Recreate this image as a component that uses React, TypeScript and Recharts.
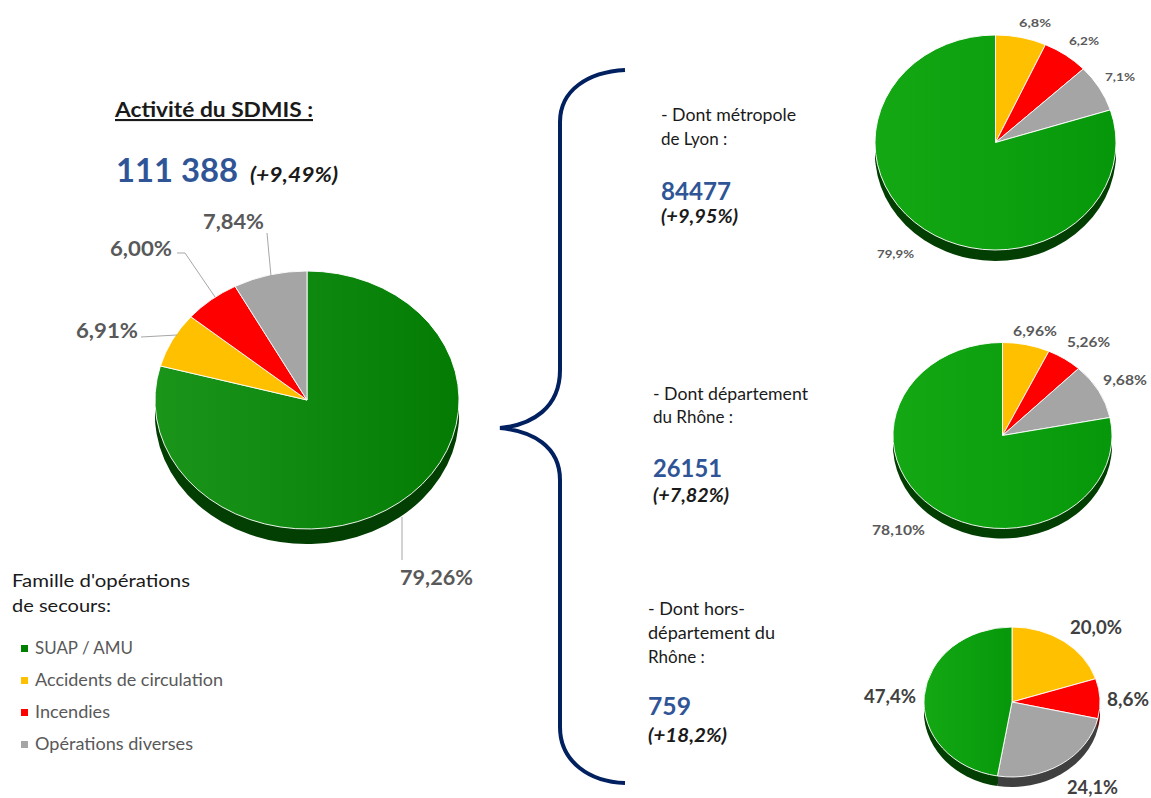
import React from 'react';
import { PieChart, Pie, Cell } from 'recharts';

// ---------- data ----------
const categories = ['SUAP / AMU', 'Accidents de circulation', 'Incendies', 'Opérations diverses'];
const totalValues = [79.26, 6.91, 6.0, 7.84];
const metropoleValues = [79.9, 6.8, 6.2, 7.1];
const rhoneValues = [78.1, 6.96, 5.26, 9.68];
const horsValues = [47.4, 20.0, 8.6, 24.1];

const totalCount = '111 388';
const totalChange = '(+9,49%)';
const metropoleCount = '84477';
const metropoleChange = '(+9,95%)';
const rhoneCount = '26151';
const rhoneChange = '(+7,82%)';
const horsCount = '759';
const horsChange = '(+18,2%)';

// ---------- styles ----------
const FONT = 'Lato, "Open Sans", sans-serif';
const legendColors = ['#008000', '#FFC000', '#FF0000', '#A5A5A5'];
const legendWidths = [98, 188, 75, 158];
const shadowColors = ['#033f03', '#7a5c00', '#7a0000', '#404040'];

const fmt = (v: number, d: number) => v.toFixed(d).replace('.', ',') + '%';

type PieSpec = {
  values: number[];
  order: number[];
  ex: number;
  ey: number;
  rx: number;
  ry: number;
  depth: number;
  topColors: string[];
};

const EllipsePie = ({ values, order, ex, ey, rx, ry, depth, topColors }: PieSpec) => {
  const data = order.map((i) => ({ name: categories[i], value: values[i], idx: i }));
  const size = 2 * rx + 4;
  const layer = (offset: number, colors: string[], stroke: boolean, key: string) => (
    <div
      key={key}
      style={{
        position: 'absolute',
        left: ex - rx - 2,
        top: ey - rx - 2 + offset,
        width: size,
        height: size,
        transform: `scaleY(${ry / rx})`,
        transformOrigin: '50% 50%',
      }}
    >
      <PieChart width={size} height={size} margin={{ top: 0, right: 0, bottom: 0, left: 0 }}>
        <Pie
          data={data}
          dataKey="value"
          cx={rx + 2}
          cy={rx + 2}
          outerRadius={rx}
          innerRadius={0}
          startAngle={90}
          endAngle={-270}
          stroke={stroke ? '#ffffff' : 'none'}
          strokeWidth={stroke ? 1 : 0}
          isAnimationActive={false}
          label={false}
          labelLine={false}
        >
          {data.map((d) => (
            <Cell key={d.name} fill={colors[d.idx]} />
          ))}
        </Pie>
      </PieChart>
    </div>
  );
  const steps = [1, 0.75, 0.5, 0.25];
  return (
    <>
      {steps.map((s, k) => layer(depth * s, shadowColors, false, 'sh' + k))}
      {layer(0, topColors, true, 'top')}
    </>
  );
};

// label placements (x = left, y = baseline, w = width) in category order
const mainLabelPos = [
  { x: 400, y: 585, w: 73 },
  { x: 76, y: 338, w: 62 },
  { x: 110, y: 256, w: 62 },
  { x: 203, y: 229, w: 61 },
];
const metroLabelPos = [
  { x: 877, y: 258, w: 37 },
  { x: 1019, y: 27, w: 32 },
  { x: 1069, y: 45, w: 30 },
  { x: 1105, y: 81, w: 30 },
];
const rhoneLabelPos = [
  { x: 872, y: 535, w: 53 },
  { x: 1013, y: 336, w: 44 },
  { x: 1067, y: 347, w: 43 },
  { x: 1103, y: 385, w: 44 },
];
const horsLabelPos = [
  { x: 864, y: 703, w: 52 },
  { x: 1070, y: 634, w: 52 },
  { x: 1107, y: 706, w: 42 },
  { x: 1067, y: 794, w: 51 },
];

export default function App() {
  const mainGreen = 'url(#gMain)';
  const smallGreen = 'url(#gSmall)';
  const mainColors = [mainGreen, '#FFC000', '#FF0000', '#A5A5A5'];
  const smallColors = [smallGreen, '#FFC000', '#FF0000', '#A5A5A5'];

  const T = (
    key: string,
    x: number,
    y: number,
    text: string,
    size: number,
    color: string,
    opts: { bold?: boolean; italic?: boolean; w?: number; underline?: boolean } = {}
  ) => (
    <text
      key={key}
      x={x}
      y={y}
      fontFamily={FONT}
      fontSize={size}
      fill={color}
      fontWeight={opts.bold ? 700 : 400}
      fontStyle={opts.italic ? 'italic' : 'normal'}
      textDecoration={opts.underline ? 'underline' : undefined}
      textLength={opts.w}
      lengthAdjust={opts.w ? 'spacingAndGlyphs' : undefined}
    >
      {text}
    </text>
  );

  const blue = '#2F5597';
  const dark = '#1A1A1A';
  const grey = '#595959';

  return (
    <div
      style={{
        position: 'absolute',
        left: 0,
        top: 0,
        width: 1151,
        height: 798,
        background: '#ffffff',
        overflow: 'hidden',
      }}
    >
      <svg width={0} height={0} style={{ position: 'absolute' }}>
        <defs>
          <linearGradient id="gMain" x1="0" y1="0" x2="1" y2="0">
            <stop offset="0%" stopColor="#1a951a" />
            <stop offset="100%" stopColor="#047c04" />
          </linearGradient>
          <linearGradient id="gSmall" x1="0" y1="0" x2="1" y2="0">
            <stop offset="0%" stopColor="#14a814" />
            <stop offset="100%" stopColor="#06980a" />
          </linearGradient>
        </defs>
      </svg>

      <EllipsePie values={totalValues} order={[0, 1, 2, 3]} ex={307} ey={400} rx={152} ry={129} depth={15} topColors={mainColors} />
      <EllipsePie values={metropoleValues} order={[1, 2, 3, 0]} ex={995.5} ey={142} rx={120.5} ry={107.5} depth={11} topColors={smallColors} />
      <EllipsePie values={rhoneValues} order={[1, 2, 3, 0]} ex={1002.5} ey={435} rx={109.5} ry={93} depth={10} topColors={smallColors} />
      <EllipsePie values={horsValues} order={[1, 2, 3, 0]} ex={1012} ey={702} rx={88} ry={75} depth={10} topColors={smallColors} />

      <svg width={1151} height={798} style={{ position: 'absolute', left: 0, top: 0 }}>
        {/* brace */}
        <path
          d="M 625 70 C 588 72 560 90 560 122 L 560 370 C 560 408 532 425 500 428 C 532 431 560 446 560 480 L 560 727 C 560 762 590 782 625 783"
          fill="none"
          stroke="#002060"
          strokeWidth={4}
        />

        {/* title block */}
        {T('t1', 115, 117, 'Activité du SDMIS :', 21, dark, { bold: true, w: 198, underline: true })}
        {T('t2', 116, 182, totalCount, 33, blue, { bold: true, w: 122 })}
        {T('t3', 250, 182, totalChange, 20, dark, { bold: true, italic: true, w: 88 })}

        {/* main pie leader lines */}
        <polyline points="267,233 271,276" fill="none" stroke="#A6A6A6" strokeWidth={1} />
        <polyline points="177,253 185,253 215,297" fill="none" stroke="#A6A6A6" strokeWidth={1} />
        <polyline points="141,337 177,335" fill="none" stroke="#A6A6A6" strokeWidth={1} />
        <polyline points="402,517 402,560" fill="none" stroke="#A6A6A6" strokeWidth={1} />

        {/* pie labels */}
        {totalValues.map((v, i) =>
          T('ml' + i, mainLabelPos[i].x, mainLabelPos[i].y, fmt(v, 2), 20, grey, { bold: true, w: mainLabelPos[i].w })
        )}
        {metropoleValues.map((v, i) =>
          T('mt' + i, metroLabelPos[i].x, metroLabelPos[i].y, fmt(v, 1), 12, grey, { bold: true, w: metroLabelPos[i].w })
        )}
        {rhoneValues.map((v, i) =>
          T('rh' + i, rhoneLabelPos[i].x, rhoneLabelPos[i].y, fmt(v, 2), 14, grey, { bold: true, w: rhoneLabelPos[i].w })
        )}
        {horsValues.map((v, i) =>
          T('hd' + i, horsLabelPos[i].x, horsLabelPos[i].y, fmt(v, 1), 18, '#404040', { bold: true, w: horsLabelPos[i].w })
        )}

        {/* legend */}
        {T('lg1', 12, 587, "Famille d'opérations", 18, dark, { w: 178 })}
        {T('lg2', 12, 612, 'de secours:', 18, dark, { w: 99 })}
        {categories.map((c, i) => (
          <g key={'li' + i}>
            <rect x={21} y={645 + i * 32} width={7} height={7} fill={legendColors[i]} />
            <text
              x={35}
              y={654 + i * 32}
              fontFamily={FONT}
              fontSize={17}
              fill={grey}
              textLength={legendWidths[i]}
              lengthAdjust="spacingAndGlyphs"
            >
              {c}
            </text>
          </g>
        ))}

        {/* right side texts */}
        {T('r1', 661, 121, '- Dont métropole', 17, dark, { w: 135 })}
        {T('r2', 661, 145, 'de Lyon :', 17, dark)}
        {T('r3', 661, 200, metropoleCount, 25, blue, { bold: true, w: 70 })}
        {T('r4', 661, 223, metropoleChange, 18, dark, { bold: true, italic: true, w: 77 })}

        {T('r5', 653, 400, '- Dont département', 17, dark, { w: 155 })}
        {T('r6', 653, 423, 'du Rhône :', 17, dark)}
        {T('r7', 653, 477, rhoneCount, 25, blue, { bold: true, w: 69 })}
        {T('r8', 653, 502, rhoneChange, 18, dark, { bold: true, italic: true, w: 76 })}

        {T('r9', 648, 615, '- Dont hors-', 17, dark, { w: 97 })}
        {T('r10', 648, 639, 'département du', 17, dark, { w: 127 })}
        {T('r11', 648, 663, 'Rhône :', 17, dark)}
        {T('r12', 648, 715, horsCount, 25, blue, { bold: true, w: 43 })}
        {T('r13', 648, 742, horsChange, 18, dark, { bold: true, italic: true, w: 79 })}
      </svg>
    </div>
  );
}
